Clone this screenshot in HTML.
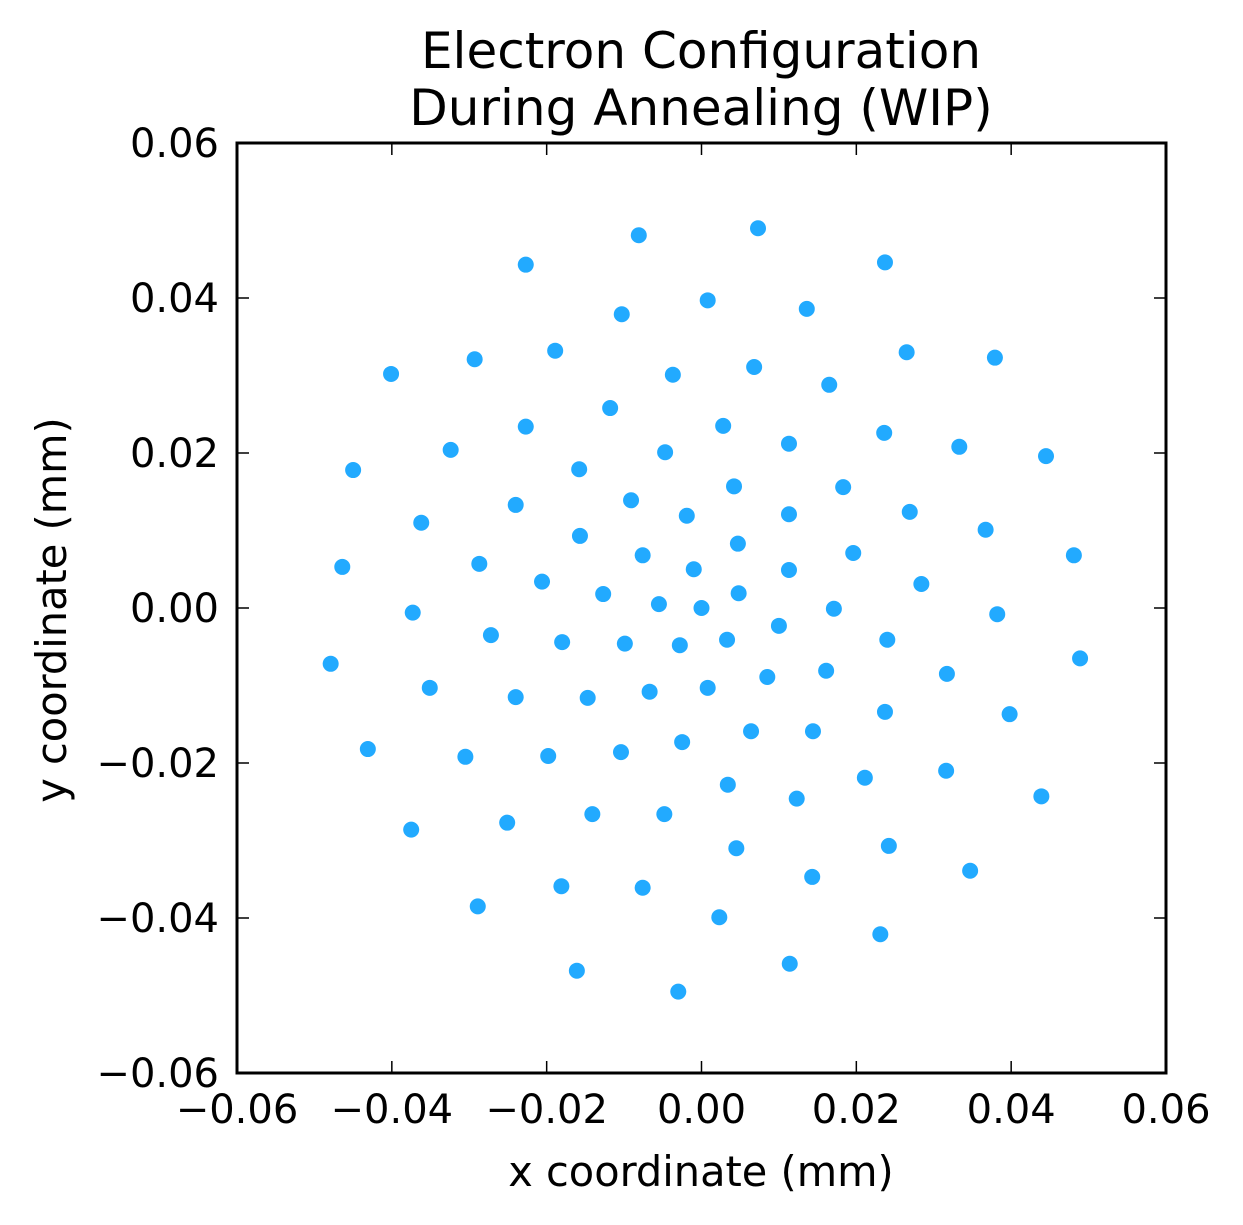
<!DOCTYPE html>
<html><head><meta charset="utf-8"><style>
body{margin:0;background:#fff;}
svg{display:block;font-family:"DejaVu Sans","Liberation Sans",sans-serif;}
</style></head><body>
<svg id="chart" width="1243" height="1225" viewBox="0 0 1243 1225">
<rect width="1243" height="1225" fill="#fff"/>
<text x="701" y="68" font-size="50" text-anchor="middle">Electron Configuration</text>
<text x="701" y="125" font-size="50" text-anchor="middle">During Annealing (WIP)</text>
<text x="701" y="1186" font-size="41.5" text-anchor="middle">x coordinate (mm)</text>
<text transform="translate(66,610) rotate(-90)" font-size="41.5" text-anchor="middle">y coordinate (mm)</text>
<g id="ticks"></g>
<g id="dots"></g>
<rect x="237" y="143" width="929" height="930" fill="none" stroke="#000" stroke-width="3"/>
</svg>
<script>
const xs=[0.0073,-0.0081,-0.0227,0.0237,0.0008,0.0136,-0.0103,-0.0401,-0.0293,-0.0189,-0.0037,0.0068,0.0165,0.0265,0.0379,-0.0118,0.0028,-0.0227,0.0113,0.0236,0.0333,-0.0324,-0.0047,0.0445,-0.0450,-0.0158,0.0042,0.0183,-0.0091,-0.0240,-0.0019,0.0113,0.0269,-0.0362,0.0367,-0.0157,0.0047,0.0196,-0.0076,0.0481,-0.0464,-0.0287,-0.0010,0.0113,-0.0206,0.0284,-0.0127,0.0048,-0.0055,0,0.0171,-0.0373,0.0382,0.0100,-0.0272,0.0033,0.0240,-0.0180,-0.0099,-0.0028,-0.0479,0.0489,0.0161,0.0317,0.0085,-0.0351,-0.0067,0.0008,-0.0240,-0.0147,0.0398,0.0237,0.0064,0.0144,-0.0025,-0.0431,-0.0104,-0.0305,-0.0198,0.0316,0.0211,0.0034,0.0123,0.0439,-0.0251,-0.0141,-0.0048,-0.0375,0.0045,0.0242,0.0347,0.0143,-0.0181,-0.0076,-0.0289,0.0023,0.0231,0.0114,-0.0161,-0.0030];
const ys=[0.0490,0.0481,0.0443,0.0446,0.0397,0.0386,0.0379,0.0302,0.0321,0.0332,0.0301,0.0311,0.0288,0.0330,0.0323,0.0258,0.0235,0.0234,0.0212,0.0226,0.0208,0.0204,0.0201,0.0196,0.0178,0.0179,0.0157,0.0156,0.0139,0.0133,0.0119,0.0121,0.0124,0.0110,0.0101,0.0093,0.0083,0.0071,0.0068,0.0068,0.0053,0.0057,0.0050,0.0049,0.0034,0.0031,0.0018,0.0019,0.0005,0,-0.0001,-0.0006,-0.0008,-0.0023,-0.0035,-0.0041,-0.0041,-0.0044,-0.0046,-0.0048,-0.0072,-0.0065,-0.0081,-0.0085,-0.0089,-0.0103,-0.0108,-0.0103,-0.0115,-0.0116,-0.0137,-0.0134,-0.0159,-0.0159,-0.0173,-0.0182,-0.0186,-0.0192,-0.0191,-0.0210,-0.0219,-0.0228,-0.0246,-0.0243,-0.0277,-0.0266,-0.0266,-0.0286,-0.0310,-0.0307,-0.0339,-0.0347,-0.0359,-0.0361,-0.0385,-0.0399,-0.0421,-0.0459,-0.0468,-0.0495];
const xTicks=[-0.06,-0.04,-0.02,0,0.02,0.04,0.06];
const yTicks=[-0.06,-0.04,-0.02,0,0.02,0.04,0.06];
const tickLabels=["\u22120.06","\u22120.04","\u22120.02","0.00","0.02","0.04","0.06"];
const X0=237,X1=1166,Y0=1073,Y1=143;
function sx(v){return X0+(v+0.06)/0.12*(X1-X0);}
function sy(v){return Y0-(v+0.06)/0.12*(Y0-Y1);}
const NS="http://www.w3.org/2000/svg";
const tg=document.getElementById('ticks');
function line(x1,y1,x2,y2){const l=document.createElementNS(NS,'line');l.setAttribute('x1',x1);l.setAttribute('y1',y1);l.setAttribute('x2',x2);l.setAttribute('y2',y2);l.setAttribute('stroke','#000');l.setAttribute('stroke-width','1.5');


tg.appendChild(l);}
xTicks.forEach((v,i)=>{const x=sx(v);line(x,Y0,x,Y0-12);line(x,Y1,x,Y1+12);
const t=document.createElementNS(NS,'text');t.setAttribute('x',x);t.setAttribute('y',Y0+50);t.setAttribute('font-size','40');t.setAttribute('text-anchor','middle');t.textContent=tickLabels[i];


tg.appendChild(t);});
yTicks.forEach((v,i)=>{const y=sy(v);line(X0,y,X0+12,y);line(X1,y,X1-12,y);
const t=document.createElementNS(NS,'text');t.setAttribute('x',X0-18);t.setAttribute('y',y+14);t.setAttribute('font-size','40');t.setAttribute('text-anchor','end');t.textContent=tickLabels[i];


tg.appendChild(t);});
const dg=document.getElementById('dots');
xs.forEach((v,i)=>{const c=document.createElementNS(NS,'circle');c.setAttribute('cx',sx(v));c.setAttribute('cy',sy(ys[i]));c.setAttribute('r','8');c.setAttribute('fill','#22aaff');


dg.appendChild(c);});
</script>
</body></html>
